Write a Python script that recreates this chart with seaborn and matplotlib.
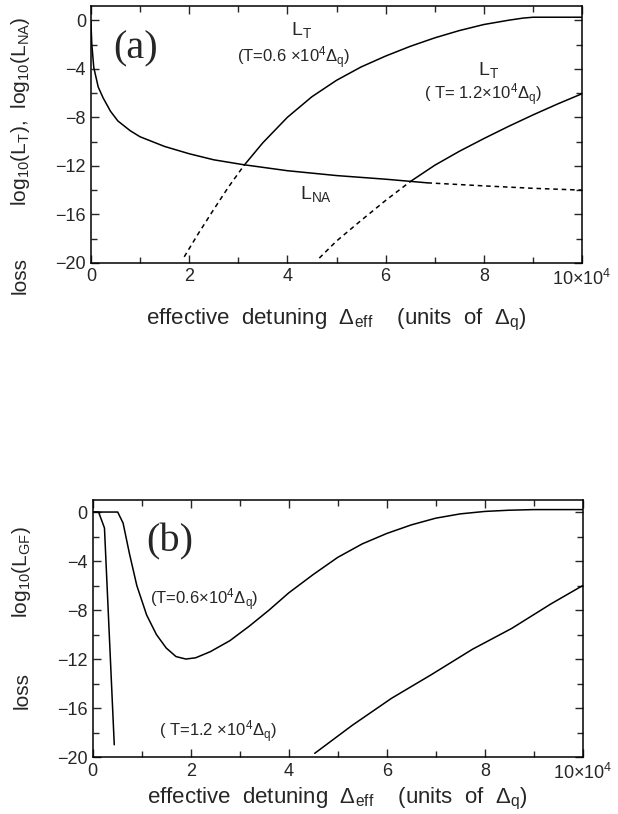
import seaborn as sns
import matplotlib.pyplot as plt
from matplotlib.ticker import MultipleLocator

# panel (a): non-adiabatic loss L_NA
na_x = [0, 0.02, 0.06, 0.15, 0.25, 0.4, 0.55, 0.8, 1.0, 1.5, 2.0, 2.5, 3.1, 4.0, 5.0, 6.0, 6.85]
na_y = [0, -2.0, -3.9, -5.5, -6.4, -7.5, -8.3, -9.1, -9.6, -10.4, -11.0, -11.5, -11.9, -12.4, -12.8, -13.1, -13.4]
na_dash_x = [6.85, 8.0, 9.0, 10.0]
na_dash_y = [-13.4, -13.65, -13.85, -14.0]

# panel (a): tunnelling loss L_T, T = 0.6e4
t06_dash_x = [1.9, 2.2, 2.5, 2.8, 3.12]
t06_dash_y = [-19.5, -17.5, -15.6, -13.75, -11.95]
t06_x = [3.12, 3.5, 4.0, 4.5, 5.0, 5.5, 6.0, 6.5, 7.0, 7.5, 8.0, 8.5, 8.8, 9.0, 10.0]
t06_y = [-11.95, -10.1, -8.0, -6.3, -4.95, -3.85, -2.95, -2.15, -1.45, -0.85, -0.35, 0.0, 0.18, 0.25, 0.25]

# panel (a): tunnelling loss L_T, T = 1.2e4
t12_dash_x = [4.65, 5.0, 5.5, 6.0, 6.5]
t12_dash_y = [-19.6, -18.2, -16.5, -14.85, -13.3]
t12_x = [6.5, 7.0, 7.5, 8.0, 8.5, 9.0, 9.5, 10.0]
t12_y = [-13.3, -11.95, -10.8, -9.75, -8.75, -7.8, -6.9, -6.05]

# panel (b): L_GF, T = 0.6e4
gf06_x = [0, 0.12, 0.51, 0.62, 0.75, 0.9, 1.1, 1.3, 1.5, 1.7, 1.9, 2.1, 2.4, 2.8, 3.2, 3.6, 4.0,
          4.5, 5.0, 5.5, 6.0, 6.5, 7.0, 7.5, 8.0, 8.5, 9.0, 10.0]
gf06_y = [0, 0, 0, -0.9, -3.4, -6.0, -8.4, -10.0, -11.1, -11.8, -12.0, -11.9, -11.4, -10.5, -9.3,
          -8.0, -6.6, -5.1, -3.7, -2.6, -1.75, -1.05, -0.5, -0.15, 0.05, 0.15, 0.2, 0.2]

# panel (b): L_GF, T = 1.2e4 (two branches)
gf12a_x = [0, 0.12, 0.24, 0.44]
gf12a_y = [0, 0, -1.3, -19.0]
gf12b_x = [4.53, 5.3, 6.1, 6.9, 7.75, 8.55, 9.35, 10.0]
gf12b_y = [-19.7, -17.4, -15.2, -13.3, -11.2, -9.5, -7.5, -6.0]

xticks = [0, 2, 4, 6, 8, 10]
xtick_labels = ["0", "2", "4", "6", "8", r"10$\times$10$^{4}$"]
yticks = [0, -4, -8, -12, -16, -20]

sns.set_style("ticks")
plt.rcParams['font.family'] = ['Liberation Sans', 'DejaVu Sans']
plt.rcParams['mathtext.fontset'] = 'custom'
plt.rcParams['mathtext.rm'] = 'Liberation Sans'
plt.rcParams['mathtext.default'] = 'regular'

fig = plt.figure(figsize=(6.18, 8.14), dpi=100)
ax_a = fig.add_axes([0.147, 0.677, 0.795, 0.316])
ax_b = fig.add_axes([0.150, 0.070, 0.793, 0.316])

dash = (0, (3, 2.5))
xlabel = r"effective  detuning  $\Delta_{eff}$    (units  of  $\Delta_{q}$)"


def curve(ax, x, y, ls='-'):
    sns.lineplot(x=x, y=y, ax=ax, color='black', lw=1.1, linestyle=ls, errorbar=None)


def frame(ax, ymax, pad):
    ax.set_xlim(0, 10)
    ax.set_ylim(-20, ymax)
    ax.set_xticks(xticks)
    ax.set_xticklabels(xtick_labels)
    ax.set_yticks(yticks)
    ax.xaxis.set_minor_locator(MultipleLocator(1))
    ax.yaxis.set_minor_locator(MultipleLocator(2))
    ax.tick_params(which='both', direction='in', top=True, right=True, width=1.0, labelsize=13)
    ax.tick_params(which='major', length=6)
    ax.tick_params(which='minor', length=4)
    ax.tick_params(axis='x', pad=4)
    for s in ax.spines.values():
        s.set_linewidth(1.1)
        s.set_color('black')
    ax.set_xlabel(xlabel, fontsize=16, labelpad=pad)


# (a)
curve(ax_a, na_x, na_y)
curve(ax_a, na_dash_x, na_dash_y, dash)
curve(ax_a, t06_dash_x, t06_dash_y, dash)
curve(ax_a, t06_x, t06_y)
curve(ax_a, t12_dash_x, t12_dash_y, dash)
curve(ax_a, t12_x, t12_y)
frame(ax_a, 1.2, 13)

ax_a.text(0.92, -2.4, "(a)", family='Liberation Serif', fontsize=29, ha='center', va='center')
ax_a.text(4.29, -0.8, r"L$_{T}$", fontsize=14, ha='center', va='center')
ax_a.text(4.13, -3.05, r"(T=0.6 $\times$10$^{4}$$\Delta_{q}$)", fontsize=12, ha='center', va='center')
ax_a.text(8.09, -4.1, r"L$_{T}$", fontsize=14, ha='center', va='center')
ax_a.text(7.98, -6.1, r"( T= 1.2$\times$10$^{4}$$\Delta_{q}$)", fontsize=12, ha='center', va='center')
ax_a.text(4.58, -14.3, r"L$_{NA}$", fontsize=14, ha='center', va='center')

ax_a.text(-0.143, -0.047, "loss", transform=ax_a.transAxes, rotation=90, fontsize=15, ha='center', va='center')
ax_a.text(-0.143, 0.59, r"log$_{10}$(L$_{T}$),  log$_{10}$(L$_{NA}$)", transform=ax_a.transAxes,
          rotation=90, fontsize=15, ha='center', va='center')

# (b)
curve(ax_b, gf06_x, gf06_y)
curve(ax_b, gf12a_x, gf12a_y)
curve(ax_b, gf12b_x, gf12b_y)
frame(ax_b, 1.0, 2)

ax_b.text(1.57, -2.45, "(b)", family='Liberation Serif', fontsize=29, ha='center', va='center')
ax_b.text(2.27, -7.2, r"(T=0.6$\times$10$^{4}$$\Delta_{q}$)", fontsize=12, ha='center', va='center')
ax_b.text(2.55, -17.9, r"( T=1.2 $\times$10$^{4}$$\Delta_{q}$)", fontsize=12, ha='center', va='center')

ax_b.text(-0.145, 0.26, "loss", transform=ax_b.transAxes, rotation=90, fontsize=15, ha='center', va='center')
ax_b.text(-0.145, 0.72, r"log$_{10}$(L$_{GF}$)", transform=ax_b.transAxes,
          rotation=90, fontsize=15, ha='center', va='center')

fig.savefig("out.png", dpi=100)
